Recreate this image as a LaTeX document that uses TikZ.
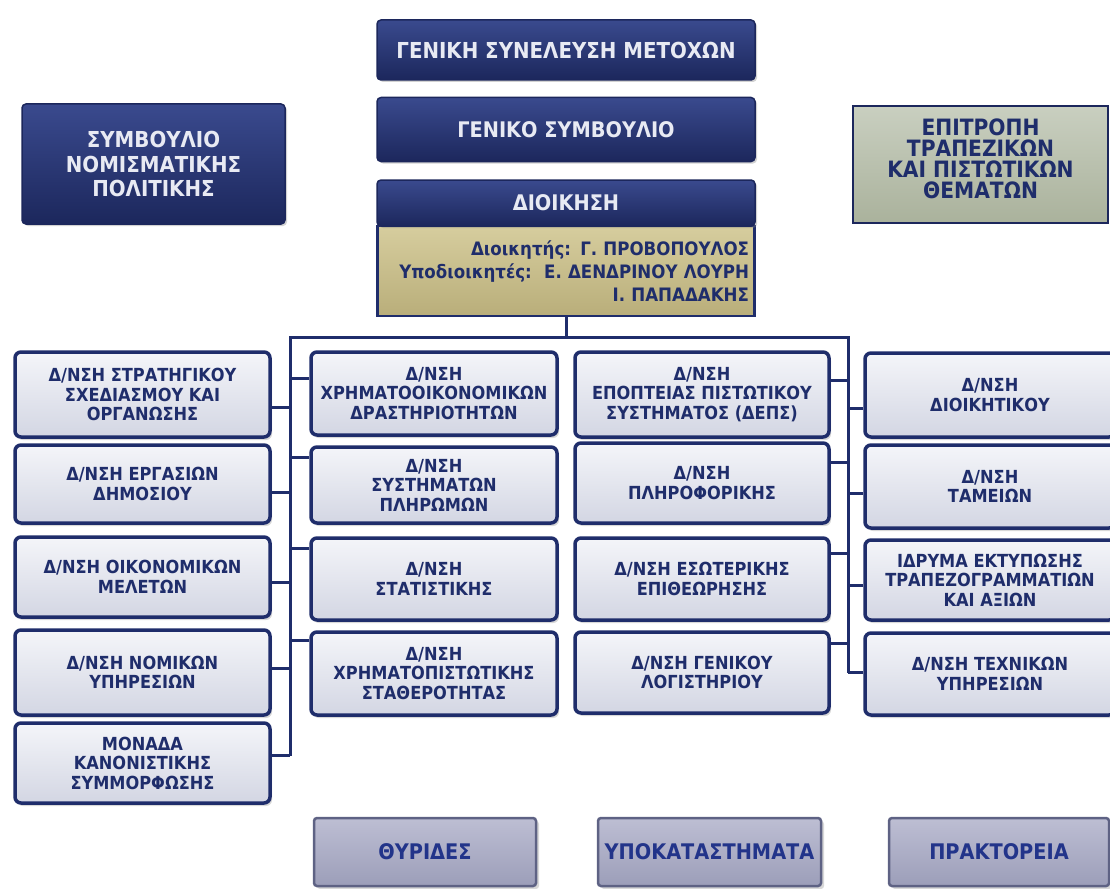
\documentclass[tikz,border=0pt]{standalone}
\usepackage{fontspec}
\setmainfont{DejaVu Sans Condensed}
\usetikzlibrary{shadows}
\definecolor{navy}{HTML}{1F2D6B}
\definecolor{navyhi}{HTML}{3A4A8E}
\definecolor{navylo}{HTML}{1C275C}
\definecolor{lighttop}{HTML}{F4F5F9}
\definecolor{lightbot}{HTML}{D3D6E3}
\definecolor{tantop}{HTML}{D6CD9E}
\definecolor{tanbot}{HTML}{B9AE7A}
\definecolor{sagetop}{HTML}{C9CFC0}
\definecolor{sagebot}{HTML}{AAB29C}
\definecolor{lavtop}{HTML}{BDBED3}
\definecolor{lavbot}{HTML}{9C9EB9}
\definecolor{lavborder}{HTML}{5E6284}
\definecolor{bluetext}{HTML}{22348A}
\definecolor{paletext}{HTML}{E8EAF3}
\tikzset{
  darkbox/.style={draw=navylo, line width=1.5pt, rounded corners=4pt,
    top color=navyhi, bottom color=navylo, text=paletext, align=center,
    font=\bfseries\fontsize{22}{24.5}\selectfont,
    drop shadow={shadow xshift=2pt, shadow yshift=-2pt, opacity=0.35}},
  unitbox/.style={draw=navy, line width=3.5pt, rounded corners=6pt,
    top color=lighttop, bottom color=lightbot, text=navy, align=center,
    font=\bfseries\fontsize{18}{19.5}\selectfont, inner sep=1pt,
    drop shadow={shadow xshift=2pt, shadow yshift=-3pt, opacity=0.3}},
  tanbox/.style={draw=navy, line width=2.5pt, top color=tantop, bottom color=tanbot,
    text=navy, align=right, font=\bfseries\fontsize{18.5}{23}\selectfont, inner xsep=4pt},
  sagebox/.style={draw=navylo, line width=2.5pt, top color=sagetop, bottom color=sagebot,
    text=navy, align=center, font=\bfseries\fontsize{22.5}{21}\selectfont},
  lavbox/.style={draw=lavborder, line width=2.5pt, rounded corners=3pt,
    top color=lavtop, bottom color=lavbot, text=bluetext, align=center,
    font=\bfseries\fontsize{21.5}{24}\selectfont,
    drop shadow={shadow xshift=3pt, shadow yshift=-3pt, opacity=0.3}},
  conn/.style={draw=navy, line width=3pt},
}
\begin{document}
\begin{tikzpicture}[x=1pt, y=-1pt]
\clip (0,0) rectangle (1110,888);
\fill[white] (0,0) rectangle (1110,888);

% top
\node[darkbox, minimum width=378, minimum height=60] (gsm) at (566,50) {ΓΕΝΙΚΗ ΣΥΝΕΛΕΥΣΗ ΜΕΤΟΧΩΝ};
\node[darkbox, minimum width=378, minimum height=64, font=\bfseries\fontsize{21.5}{24}\selectfont] (gs) at (566,129.5) {ΓΕΝΙΚΟ ΣΥΜΒΟΥΛΙΟ};
\node[tanbox, minimum width=377, minimum height=90, text width=366] (tan) at (566,271)
  {Διοικητής: Γ. ΠΡΟΒΟΠΟΥΛΟΣ\\Υποδιοικητές:\ \ Ε. ΔΕΝΔΡΙΝΟΥ ΛΟΥΡΗ\\Ι. ΠΑΠΑΔΑΚΗΣ\\[-14pt]};
\node[darkbox, minimum width=378, minimum height=46, font=\bfseries\fontsize{21.5}{24}\selectfont] (dio) at (566,203) {ΔΙΟΙΚΗΣΗ};
\node[darkbox, minimum width=263, minimum height=120] (snp) at (153.5,164) {ΣΥΜΒΟΥΛΙΟ\\ΝΟΜΙΣΜΑΤΙΚΗΣ\\ΠΟΛΙΤΙΚΗΣ};
\node[sagebox, minimum width=255, minimum height=117] (etp) at (980.5,164.5) {ΕΠΙΤΡΟΠΗ\\ΤΡΑΠΕΖΙΚΩΝ\\ΚΑΙ ΠΙΣΤΩΤΙΚΩΝ\\ΘΕΜΑΤΩΝ\\[-10pt]};

% column 1
\node[unitbox, minimum width=255, minimum height=85] (a1) at (142.5,394.5) {Δ/ΝΣΗ ΣΤΡΑΤΗΓΙΚΟΥ\\ΣΧΕΔΙΑΣΜΟΥ ΚΑΙ\\ΟΡΓΑΝΩΣΗΣ};
\node[unitbox, minimum width=255, minimum height=78] (a2) at (142.5,484) {Δ/ΝΣΗ ΕΡΓΑΣΙΩΝ\\ΔΗΜΟΣΙΟΥ};
\node[unitbox, minimum width=255, minimum height=80] (a3) at (142.5,577) {Δ/ΝΣΗ ΟΙΚΟΝΟΜΙΚΩΝ\\ΜΕΛΕΤΩΝ};
\node[unitbox, minimum width=255, minimum height=85] (a4) at (142.5,672.5) {Δ/ΝΣΗ ΝΟΜΙΚΩΝ\\ΥΠΗΡΕΣΙΩΝ};
\node[unitbox, minimum width=255, minimum height=80] (a5) at (142.5,763) {ΜΟΝΑΔΑ\\ΚΑΝΟΝΙΣΤΙΚΗΣ\\ΣΥΜΜΟΡΦΩΣΗΣ};
% column 2
\node[unitbox, minimum width=246, minimum height=83] (b1) at (434,393.5) {Δ/ΝΣΗ\\ΧΡΗΜΑΤΟΟΙΚΟΝΟΜΙΚΩΝ\\ΔΡΑΣΤΗΡΙΟΤΗΤΩΝ};
\node[unitbox, minimum width=246, minimum height=76] (b2) at (434,485) {Δ/ΝΣΗ\\ΣΥΣΤΗΜΑΤΩΝ\\ΠΛΗΡΩΜΩΝ};
\node[unitbox, minimum width=246, minimum height=82] (b3) at (434,579) {Δ/ΝΣΗ\\ΣΤΑΤΙΣΤΙΚΗΣ};
\node[unitbox, minimum width=246, minimum height=83] (b4) at (434,673.5) {Δ/ΝΣΗ\\ΧΡΗΜΑΤΟΠΙΣΤΩΤΙΚΗΣ\\ΣΤΑΘΕΡΟΤΗΤΑΣ};
% column 3
\node[unitbox, minimum width=254, minimum height=85] (c1) at (702,394.5) {Δ/ΝΣΗ\\ΕΠΟΠΤΕΙΑΣ ΠΙΣΤΩΤΙΚΟΥ\\ΣΥΣΤΗΜΑΤΟΣ (ΔΕΠΣ)};
\node[unitbox, minimum width=254, minimum height=80] (c2) at (702,483) {Δ/ΝΣΗ\\ΠΛΗΡΟΦΟΡΙΚΗΣ};
\node[unitbox, minimum width=254, minimum height=82] (c3) at (702,579) {Δ/ΝΣΗ ΕΣΩΤΕΡΙΚΗΣ\\ΕΠΙΘΕΩΡΗΣΗΣ};
\node[unitbox, minimum width=254, minimum height=81] (c4) at (702,672.5) {Δ/ΝΣΗ ΓΕΝΙΚΟΥ\\ΛΟΓΙΣΤΗΡΙΟΥ};
% column 4
\node[unitbox, minimum width=250, minimum height=84] (d1) at (990,395) {Δ/ΝΣΗ\\ΔΙΟΙΚΗΤΙΚΟΥ};
\node[unitbox, minimum width=250, minimum height=83] (d2) at (990,486.5) {Δ/ΝΣΗ\\ΤΑΜΕΙΩΝ};
\node[unitbox, minimum width=250, minimum height=80] (d3) at (990,580) {ΙΔΡΥΜΑ ΕΚΤΥΠΩΣΗΣ\\ΤΡΑΠΕΖΟΓΡΑΜΜΑΤΙΩΝ\\ΚΑΙ ΑΞΙΩΝ};
\node[unitbox, minimum width=250, minimum height=82] (d4) at (990,674) {Δ/ΝΣΗ ΤΕΧΝΙΚΩΝ\\ΥΠΗΡΕΣΙΩΝ};

% bottom
\node[lavbox, minimum width=222, minimum height=68] (thy) at (425,852) {ΘΥΡΙΔΕΣ};
\node[lavbox, minimum width=223, minimum height=68] (ypo) at (709.5,852) {ΥΠΟΚΑΤΑΣΤΗΜΑΤΑ};
\node[lavbox, minimum width=220, minimum height=68] (pra) at (999,852) {ΠΡΑΚΤΟΡΕΙΑ};

% buses
\coordinate (LT) at (290,337);
\coordinate (LB) at (290,756);
\coordinate (RT) at (848,337);
\coordinate (RB) at (848,673);
\draw[conn] (tan.south) -- (tan.south |- LT);
\draw[conn] (LB) -- (LT) -- (RT) -- (RB);

% ticks column 1
\draw[conn] ([yshift=-12.5pt]a1.east) -- ([yshift=-12.5pt]a1.east -| LT);
\draw[conn] ([yshift=-8pt]a2.east) -- ([yshift=-8pt]a2.east -| LT);
\draw[conn] ([yshift=-5pt]a3.east) -- ([yshift=-5pt]a3.east -| LT);
\draw[conn] ([yshift=4.5pt]a4.east) -- ([yshift=4.5pt]a4.east -| LT);
\draw[conn] ([yshift=8pt]a5.east) -- ([yshift=8pt]a5.east -| LT);
% ticks column 2
\draw[conn] ([yshift=15.5pt]b1.west) -- ([yshift=15.5pt]b1.west -| LT);
\draw[conn] ([yshift=28pt]b2.west) -- ([yshift=28pt]b2.west -| LT);
\draw[conn] ([yshift=31pt]b3.west) -- ([yshift=31pt]b3.west -| LT);
\draw[conn] ([yshift=33.5pt]b4.west) -- ([yshift=33.5pt]b4.west -| LT);
% ticks column 3
\draw[conn] ([yshift=14.5pt]c1.east) -- ([yshift=14.5pt]c1.east -| RT);
\draw[conn] ([yshift=21pt]c2.east) -- ([yshift=21pt]c2.east -| RT);
\draw[conn] ([yshift=26pt]c3.east) -- ([yshift=26pt]c3.east -| RT);
\draw[conn] ([yshift=29.5pt]c4.east) -- ([yshift=29.5pt]c4.east -| RT);
% ticks column 4
\draw[conn] ([yshift=-13pt]d1.west) -- ([yshift=-13pt]d1.west -| RT);
\draw[conn] ([yshift=-6.5pt]d2.west) -- ([yshift=-6.5pt]d2.west -| RT);
\draw[conn] ([yshift=-5pt]d3.west) -- ([yshift=-5pt]d3.west -| RT);
\draw[conn] ([yshift=2pt]d4.west) -- ([yshift=2pt]d4.west -| RT);
\end{tikzpicture}
\end{document}
